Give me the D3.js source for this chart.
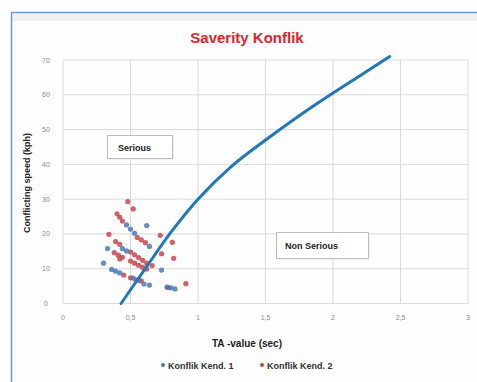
<!DOCTYPE html>
<html><head><meta charset="utf-8">
<script src="https://cdn.jsdelivr.net/npm/d3@7"></script>
<style>html,body{margin:0;padding:0;background:#fff;}svg{display:block;}</style>
</head><body>
<svg id="chart" width="477" height="382"></svg>
<script>
const titleText = "Saverity Konflik";
const xTitle = "TA -value (sec)";
const yTitle = "Conflicting speed (kph)";
const xTicks = [0, 0.5, 1, 1.5, 2, 2.5, 3];
const xTickLabels = ["0", "0,5", "1", "1,5", "2", "2,5", "3"];
const yTicks = [0, 10, 20, 30, 40, 50, 60, 70];
const seriesNames = ["Konflik Kend. 1", "Konflik Kend. 2"];
// boundary curve (TA, speed)
const curveX = [0.43, 0.6, 0.8, 1.0, 1.25, 1.5, 1.75, 2.0, 2.2, 2.42];
const curveY = [0, 9.5, 20.5, 30, 39.5, 47, 54, 60.5, 65.5, 71];
// Konflik Kend. 1 (blue)
const kend1X = [0.62, 0.33, 0.30, 0.73, 0.77, 0.80, 0.83, 0.64, 0.47, 0.50, 0.53, 0.64, 0.36, 0.39, 0.42, 0.52, 0.56, 0.60, 0.44, 0.47];
const kend1Y = [22.4, 15.8, 11.6, 9.6, 4.7, 4.5, 4.2, 5.3, 22.6, 21.4, 20.2, 16.4, 9.8, 9.3, 8.8, 7.3, 6.7, 5.6, 15.8, 15.1];
// Konflik Kend. 2 (red)
const kend2X = [0.48, 0.52, 0.34, 0.72, 0.81, 0.82, 0.91, 0.73, 0.40, 0.42, 0.44, 0.55, 0.58, 0.61, 0.39, 0.42, 0.50, 0.53, 0.56, 0.59, 0.62, 0.66, 0.38, 0.41, 0.44, 0.50, 0.53, 0.56, 0.59, 0.62, 0.45, 0.50, 0.54, 0.58, 0.78, 0.42];
const kend2Y = [29.3, 27.2, 19.9, 19.6, 17.6, 13.0, 5.7, 14.3, 25.8, 24.8, 23.7, 19.0, 18.3, 17.5, 17.8, 17.0, 14.8, 14.0, 13.2, 12.4, 11.6, 10.9, 14.6, 13.9, 13.3, 12.2, 11.6, 11.0, 10.4, 9.9, 8.2, 7.4, 6.8, 6.5, 4.6, 12.8];

const svg = d3.select("#chart");
const font = "'Liberation Sans', Arial, sans-serif";
const x = d3.scaleLinear().domain([0, 3]).range([63, 468]);
const y = d3.scaleLinear().domain([0, 70]).range([303.5, 60]);

// chart frame
svg.append("rect").attr("x", 11).attr("y", 12).attr("width", 470).attr("height", 375).attr("fill", "#fdfdfd");
svg.append("rect").attr("x", 12).attr("y", 13).attr("width", 470).attr("height", 8).attr("fill", "#efefef");
svg.append("line").attr("x1", 11).attr("x2", 477).attr("y1", 12.5).attr("y2", 12.5).attr("stroke", "#6f97d0").attr("stroke-width", 1.5);
svg.append("line").attr("x1", 11.5).attr("x2", 11.5).attr("y1", 12).attr("y2", 382).attr("stroke", "#6f97d0").attr("stroke-width", 1.5);

// grid
const g = svg.append("g");
g.selectAll(".vg").data(xTicks).join("line")
  .attr("x1", d => x(d)).attr("x2", d => x(d)).attr("y1", y(70)).attr("y2", y(0))
  .attr("stroke", "#dadada").attr("stroke-width", 1);
g.selectAll(".hg").data(yTicks).join("line")
  .attr("x1", x(0)).attr("x2", x(3)).attr("y1", d => y(d)).attr("y2", d => y(d))
  .attr("stroke", "#dadada").attr("stroke-width", 1);

// tick labels
svg.selectAll(".xl").data(xTicks).join("text")
  .attr("x", d => x(d)).attr("y", 320).attr("text-anchor", "middle")
  .attr("font-family", font).attr("font-size", 7).attr("fill", "#8a8a8a")
  .text((d, i) => xTickLabels[i]);
svg.selectAll(".yl").data(yTicks).join("text")
  .attr("x", 46).attr("y", d => y(d) + 2.5).attr("text-anchor", "middle")
  .attr("font-family", font).attr("font-size", 7).attr("fill", "#8a8a8a")
  .text(d => d);

// title and axis titles
svg.append("text").attr("x", 247).attr("y", 43).attr("text-anchor", "middle")
  .attr("font-family", font).attr("font-weight", "bold").attr("font-size", 15).attr("fill", "#e3232c").text(titleText);
svg.append("text").attr("x", 247).attr("y", 347).attr("text-anchor", "middle")
  .attr("font-family", font).attr("font-weight", "bold").attr("font-size", 10).attr("fill", "#222").text(xTitle);
svg.append("text").attr("transform", "translate(30,183) rotate(-90)").attr("text-anchor", "middle")
  .attr("font-family", font).attr("font-weight", "bold").attr("font-size", 9).attr("fill", "#222").text(yTitle);

// scatter
const d1 = kend1X.map((v, i) => [v, kend1Y[i]]);
const d2 = kend2X.map((v, i) => [v, kend2Y[i]]);
svg.append("g").selectAll("circle").data(d2).join("circle")
  .attr("cx", d => x(d[0])).attr("cy", d => y(d[1])).attr("r", 2.6).attr("fill", "#c8454c").attr("opacity", 0.85);
svg.append("g").selectAll("circle").data(d1).join("circle")
  .attr("cx", d => x(d[0])).attr("cy", d => y(d[1])).attr("r", 2.6).attr("fill", "#4a78b8").attr("opacity", 0.85);

// boundary line
const cd = curveX.map((v, i) => [v, curveY[i]]);
svg.append("path").datum(cd)
  .attr("d", d3.line().x(d => x(d[0])).y(d => y(d[1])).curve(d3.curveCatmullRom.alpha(0.5)))
  .attr("fill", "none").attr("stroke", "#2277b8").attr("stroke-width", 3).attr("stroke-linecap", "round");

// annotation boxes
function box(x0, y0, w, h, label, tx) {
  svg.append("rect").attr("x", x0 + 1).attr("y", y0 + 1).attr("width", w).attr("height", h).attr("fill", "#e6e6e6");
  svg.append("rect").attr("x", x0).attr("y", y0).attr("width", w).attr("height", h).attr("fill", "#fff").attr("stroke", "#bdbdbd");
  svg.append("text").attr("x", tx).attr("y", y0 + h / 2 + 3.5).attr("font-family", font).attr("font-weight", "bold")
    .attr("font-size", 9).attr("fill", "#222").text(label);
}
box(107.5, 135.5, 65, 23, "Serious", 118);
box(276.5, 232.5, 92, 26, "Non Serious", 285);

// legend
const leg = svg.append("g");
const legX = [163, 262];
const legCol = ["#4a78b8", "#c8454c"];
seriesNames.forEach((n, i) => {
  leg.append("circle").attr("cx", legX[i]).attr("cy", 365).attr("r", 2).attr("fill", legCol[i]);
  leg.append("text").attr("x", legX[i] + 5).attr("y", 368.5).attr("font-family", font).attr("font-weight", "bold")
    .attr("font-size", 9).attr("fill", "#333").text(n);
});
</script>
</body></html>
